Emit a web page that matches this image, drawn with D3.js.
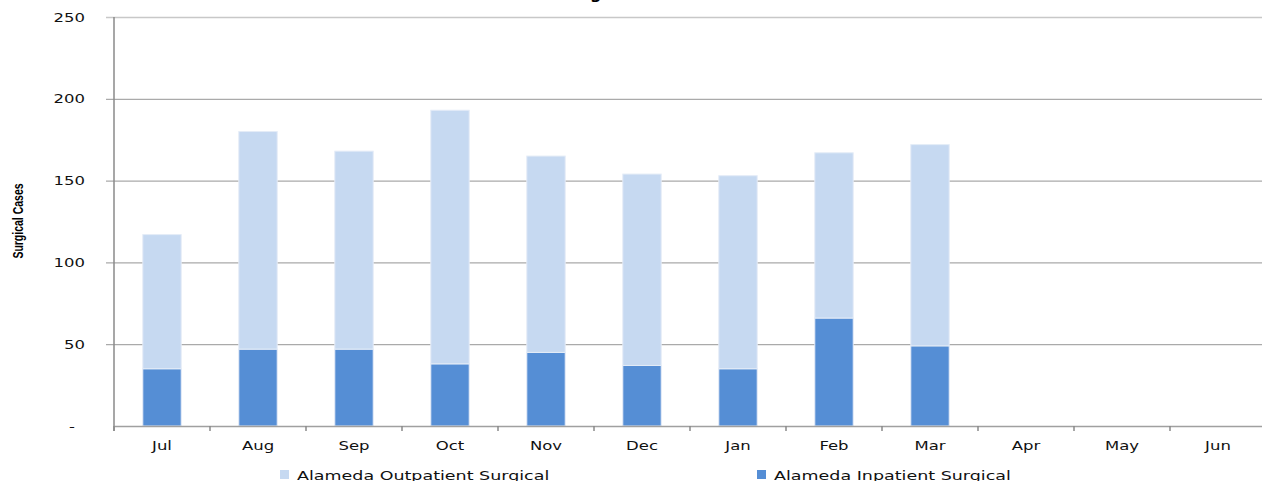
<!DOCTYPE html>
<html>
<head>
<meta charset="utf-8">
<script src="https://d3js.org/d3.v7.min.js"></script>
<style>
  html, body { margin: 0; padding: 0; background: #fff; overflow: hidden; }
</style>
</head>
<body>
<div id="chart"></div>
<script>
// ── Data ──
const MONTHS = ['Jul', 'Aug', 'Sep', 'Oct', 'Nov', 'Dec', 'Jan', 'Feb', 'Mar', 'Apr', 'May', 'Jun'];
const INPATIENT = [35, 47, 47, 38, 45, 37, 35, 66, 49, null, null, null];
const OUTPATIENT = [82, 133, 121, 155, 120, 117, 118, 101, 123, null, null, null];
const Y_TICKS = [0, 50, 100, 150, 200, 250];
const SERIES = [
    { key: 'out', name: 'Alameda Outpatient Surgical', color: '#c6d9f1' },
    { key: 'in', name: 'Alameda Inpatient Surgical', color: '#558ed5' },
];

const width = 1262, height = 481;
const margin = { top: 17, right: -4, bottom: 55, left: 114 };
const innerW = width - margin.left - margin.right;
const innerH = height - margin.top - margin.bottom;
const WIDE = 'scale(1.32,1)';  // the source font renders wide

const svg = d3.select('#chart').append('svg')
    .attr('width', width)
    .attr('height', height);

// Title (mostly clipped above the frame)
svg.append('text')
    .attr('x', 625).attr('y', -1)
    .attr('text-anchor', 'middle')
    .attr('font-family', "'DejaVu Sans', sans-serif")
    .attr('font-size', '16px')
    .attr('font-weight', 'bold')
    .attr('fill', '#000')
    .text('Surgical Cases');

const g = svg.append('g').attr('transform', `translate(${margin.left},${margin.top})`);

const x = d3.scaleBand().domain(MONTHS).range([0, innerW]).paddingInner(0.6).paddingOuter(0.3);
const y = d3.scaleLinear().domain([0, 250]).range([innerH, 0]);

// Gridlines + y labels
const yAxis = d3.axisLeft(y).tickValues(Y_TICKS).tickSize(-innerW - 8)
    .tickFormat(d => d === 0 ? '-' : d);
const ya = g.append('g').attr('transform', 'translate(-8,0)').call(yAxis);
ya.select('.domain').remove();
ya.selectAll('.tick line')
    .attr('x1', 0)
    .attr('x2', innerW + 8)
    .attr('stroke', d => d === 250 ? '#c8c8c8' : '#aaaaaa')
    .attr('stroke-width', d => d === 250 ? 1.5 : 1.2);
ya.selectAll('.tick text')
    .attr('x', 0)
    .attr('transform', d => `translate(${d === 0 ? -31 : -21},0) ${WIDE}`)
    .attr('font-family', "'DejaVu Sans', sans-serif")
    .attr('font-size', '12.5px')
    .attr('fill', '#111');
ya.selectAll('.tick').filter(d => d === 0).select('line').remove();

// Stacked bars
const stackData = MONTHS.map((m, i) => ({ month: m, in: INPATIENT[i] || 0, out: OUTPATIENT[i] || 0 }));
const stacked = d3.stack().keys(['in', 'out'])(stackData);
const colorOf = { in: '#558ed5', out: '#c6d9f1' };

g.append('g').selectAll('g')
    .data(stacked)
    .join('g')
    .attr('fill', d => colorOf[d.key])
    .selectAll('rect')
    .data(d => d.filter(p => p[1] > p[0]))
    .join('rect')
    .attr('x', d => x(d.data.month))
    .attr('y', d => y(d[1]))
    .attr('width', x.bandwidth())
    .attr('height', d => y(d[0]) - y(d[1]))
    .attr('stroke', '#e4ecf7')
    .attr('stroke-width', 1);

// X axis
const step = x.step();
const xa = g.append('g').attr('transform', `translate(0,${innerH})`)
    .call(d3.axisBottom(x).tickSize(0).tickPadding(15));
xa.select('.domain').attr('stroke', '#a0a0a0').attr('stroke-width', 1.5);
xa.selectAll('.tick text')
    .attr('transform', WIDE)
    .attr('font-family', "'DejaVu Sans', sans-serif")
    .attr('font-size', '12.5px')
    .attr('fill', '#111');
// Category boundary tick marks
xa.append('g').selectAll('line')
    .data(d3.range(MONTHS.length + 1))
    .join('line')
    .attr('x1', i => i * step).attr('x2', i => i * step)
    .attr('y1', 0).attr('y2', 5)
    .attr('stroke', '#8a8a8a')
    .attr('stroke-width', 1.5);

// Y axis line
g.append('line')
    .attr('x1', 0).attr('x2', 0)
    .attr('y1', 0).attr('y2', innerH + 5)
    .attr('stroke', '#8a8a8a')
    .attr('stroke-width', 1.5);

// Y axis title
svg.append('text')
    .attr('transform', 'translate(23,221) rotate(-90) scale(0.7,1)')
    .attr('text-anchor', 'middle')
    .attr('font-family', "'Liberation Sans', sans-serif")
    .attr('font-size', '15px')
    .attr('font-weight', 'bold')
    .attr('fill', '#000')
    .text('Surgical Cases');

// Legend
const legendX = [280, 757];
const legend = svg.append('g');
SERIES.forEach((s, i) => {
    const lg = legend.append('g').attr('transform', `translate(${legendX[i]},470)`);
    lg.append('rect').attr('width', 9).attr('height', 9).attr('fill', s.color);
    lg.append('text')
        .attr('transform', `translate(17,10) scale(1.4,1)`)
        .attr('font-family', "'DejaVu Sans', sans-serif")
        .attr('font-size', '12.5px')
        .attr('fill', '#111')
        .text(s.name);
});
</script>
</body>
</html>
